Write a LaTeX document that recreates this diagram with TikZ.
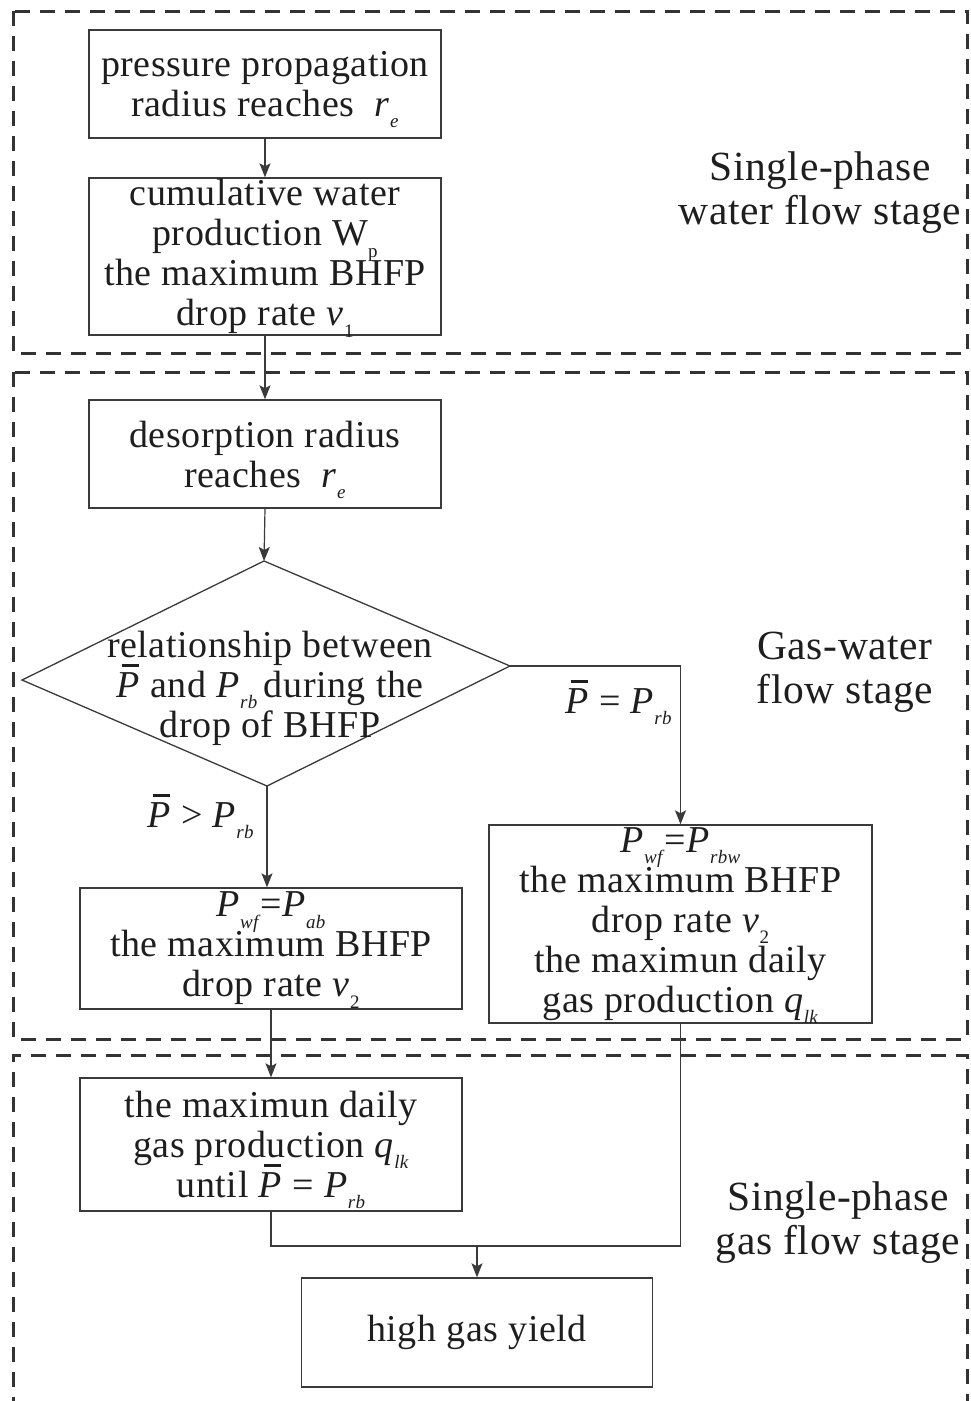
\documentclass[tikz,border=0pt]{standalone}
\usepackage{fontspec}
\setmainfont{Liberation Serif}[LetterSpace=1.5]
\usetikzlibrary{arrows.meta}
\definecolor{linec}{HTML}{3A3A3A}
\definecolor{dashc}{HTML}{333333}
\definecolor{txt}{HTML}{1E1E1E}
\newcommand{\boxfont}{\fontsize{38}{40}\selectfont}
\newcommand{\stagefont}{\fontsize{41.5}{44}\selectfont}
\newcommand{\PB}{\makebox[0pt][l]{\smash{\hspace{0.14em}\rule[0.80em]{0.45em}{0.07em}}}\textit{P}}
\newcommand{\mysb}[1]{\smash{\raisebox{-0.3em}{\fontsize{19}{19}\selectfont #1}}}
\tikzset{
  box/.style={draw=linec, line width=1.4pt, inner sep=0pt, align=center, font=\boxfont, text=txt},
  arr/.style={draw=linec, line width=1.2pt, -{Stealth[length=14pt,width=11pt,inset=3pt]}},
  ln/.style={draw=linec, line width=1.2pt},
  dia/.style={draw=linec, line width=1.3pt},
  stagebox/.style={draw=dashc, line width=3pt, dash pattern=on 15pt off 10pt},
  stagelabel/.style={align=center, font=\stagefont, text=txt, inner sep=0pt},
  cond/.style={font=\boxfont, text=txt, inner sep=0pt, anchor=base west},
}
\begin{document}
\begin{tikzpicture}[x=1pt,y=-1pt]
\useasboundingbox (0,0) rectangle (971,1401);
% stage frames
\draw[stagebox] (13,11) rectangle (967,353);
\draw[stagebox] (13,372) rectangle (967,1039);
\draw[stagebox] (13,1412) -- (13,1055) -- (967,1055) -- (967,1412);
% boxes
\node[box, minimum width=352pt, minimum height=108pt] (b1) at (265,84)
  {pressure propagation\\radius reaches~ \textit{r}\mysb{\textit{e}}};
\node[box, minimum width=352pt, minimum height=157pt] (b2) at (265,256.5)
  {cumulative water\\production W\mysb{p}\\the maximum BHFP\\drop rate \textit{v}\mysb{1}};
\node[box, minimum width=352pt, minimum height=108pt] (b3) at (265,454)
  {desorption radius\\reaches~ \textit{r}\mysb{\textit{e}}};
% diamond
\coordinate (dt) at (264,561);
\coordinate (dr) at (510,666);
\coordinate (db) at (267,786);
\coordinate (dl) at (22,680);
\draw[dia] (dt) -- (dr) -- (db) -- (dl) -- cycle;
\node[align=center, font=\boxfont, text=txt, inner sep=0pt] (dtext) at (270,688)
  {relationship between\\\PB{} and \textit{P}\mysb{\textit{rb}}\,during the\\drop of BHFP};
\node[box, minimum width=382pt, minimum height=121pt] (b4) at (271,948.5)
  {\textit{P}\mysb{\textit{wf}}=\textit{P}\mysb{\textit{ab}}\\the maximum BHFP\\drop rate \textit{v}\mysb{2}};
\node[box, minimum width=383pt, minimum height=198pt] (b5) at (680.5,924)
  {\textit{P}\mysb{\textit{wf}}=\textit{P}\mysb{\textit{rbw}}\\the maximum BHFP\\drop rate \textit{v}\mysb{2}\\the maximun daily\\gas production \textit{q}\mysb{\textit{lk}}};
\node[box, minimum width=382pt, minimum height=133pt] (b6) at (271,1144.5)
  {the maximun daily\\gas production \textit{q}\mysb{\textit{lk}}\\until \PB{} = \textit{P}\mysb{\textit{rb}}};
\node[box, minimum width=351pt, minimum height=109pt] (b7) at (477,1332.5)
  {high gas yield};
% condition labels
\node[cond] (c1) at (565,713) {\PB{} = \textit{P}\mysb{\textit{rb}}};
\node[cond] (c2) at (147,827) {\PB{} > \textit{P}\mysb{\textit{rb}}};
% stage labels
\node[stagelabel] (s1) at (820,193) {Single-phase\\water flow stage};
\node[stagelabel] (s2) at (845,672) {Gas-water\\flow stage};
\node[stagelabel] (s3) at (838,1223) {Single-phase\\gas flow stage};
% connectors
\draw[arr] (b1.south) -- (b2.north);
\draw[arr] (b2.south) -- (b3.north);
\draw[arr] (b3.south) -- (dt);
\draw[arr] (db) -- (db |- b4.north);
\draw[arr] (dr) -| (b5.north);
\draw[arr] (b4.south) -- (b6.north);
\coordinate (m) at (477,1246);
\draw[ln] (b6.south) |- (m);
\draw[ln] (b5.south) |- (m);
\draw[arr] (m) -- (b7.north);
\end{tikzpicture}
\end{document}
